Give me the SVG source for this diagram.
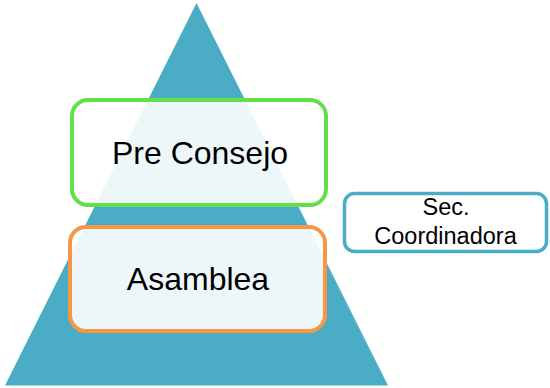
<svg xmlns="http://www.w3.org/2000/svg" width="550" height="388" viewBox="0 0 550 388">
<style>
.box{fill:#ffffff;fill-opacity:0.9;stroke-width:4}
.lbl{font-family:"Liberation Sans",Arial,sans-serif;fill:#000000;text-anchor:middle}
</style>
<rect x="0" y="0" width="550" height="388" fill="#ffffff"/>
<polygon id="pyramid" points="196.5,3 5,385.5 388,385.5" fill="#4bacc6"/>
<g id="connectors"></g>
<g id="pre-consejo">
<rect class="box" x="72" y="100" width="254" height="105" rx="16" stroke="#62e04a"/>
<text class="lbl" x="200" y="164" font-size="32">Pre Consejo</text>
</g>
<g id="asamblea">
<rect class="box" x="70" y="227" width="255" height="104" rx="16" stroke="#f79646"/>
<text class="lbl" x="198" y="290" font-size="32">Asamblea</text>
</g>
<g id="sec-coordinadora">
<rect x="344.5" y="193.5" width="202" height="58" rx="10" fill="#ffffff" stroke="#4bacc6" stroke-width="3.5"/>
<text class="lbl" x="446" y="215" font-size="23.5">Sec.</text>
<text class="lbl" x="445.5" y="244" font-size="23.5">Coordinadora</text>
</g>
</svg>
